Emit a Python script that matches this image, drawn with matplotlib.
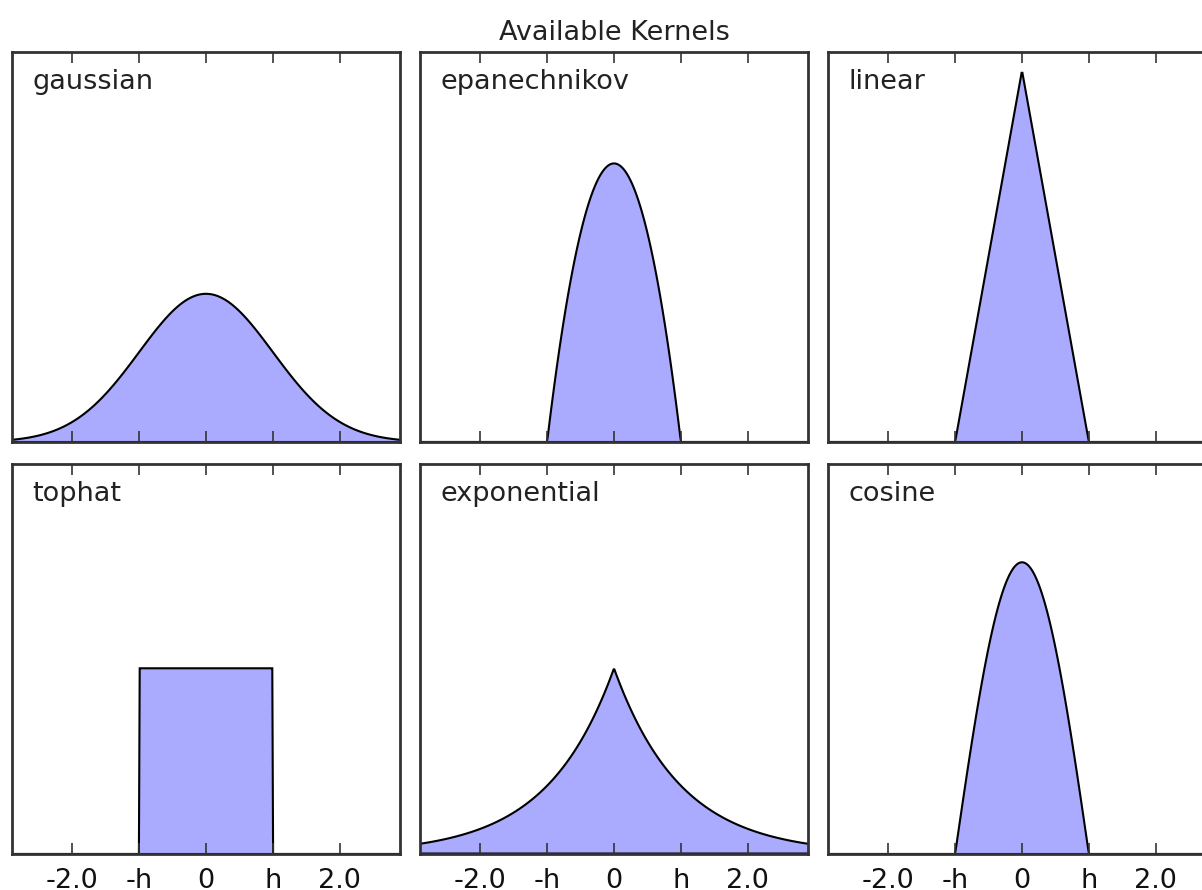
import numpy as np
import matplotlib
matplotlib.use('Agg')
import matplotlib.pyplot as plt

# kernel names as laid out in the grid (row by row) and bandwidth
kernels = ['gaussian', 'epanechnikov', 'linear', 'tophat', 'exponential', 'cosine']
h = 1.0
tick_pos = [-2, -1, 0, 1, 2]
tick_labels = ['-2.0', '-h', '0', 'h', '2.0']


def kernel_density(kernel, x):
    u = np.abs(x) / h
    if kernel == 'gaussian':
        return np.exp(-0.5 * u ** 2) / np.sqrt(2 * np.pi) / h
    if kernel == 'tophat':
        return np.where(u < 1, 0.5, 0.0) / h
    if kernel == 'epanechnikov':
        return np.where(u < 1, 0.75 * (1 - u ** 2), 0.0) / h
    if kernel == 'exponential':
        return 0.5 * np.exp(-u) / h
    if kernel == 'linear':
        return np.where(u < 1, 1 - u, 0.0) / h
    if kernel == 'cosine':
        return np.where(u < 1, np.pi / 4 * np.cos(np.pi * u / 2), 0.0) / h


X_plot = np.linspace(-6, 6, 1000)

fig = plt.figure(figsize=(12.02, 8.9), dpi=100)
W, H = 1202.0, 890.0
col_left = [12, 420, 828]
row_top = [52, 464]
ax_w, ax_h = 388, 390

axes = []
for i, kernel in enumerate(kernels):
    r, c = divmod(i, 3)
    ax = fig.add_axes([col_left[c] / W, 1 - (row_top[r] + ax_h) / H, ax_w / W, ax_h / H])
    axes.append(ax)
    ax.fill(X_plot, kernel_density(kernel, X_plot), fc='#AAAAFF', ec='k', lw=1.5)
    ax.text(-2.6, 0.95, kernel, fontsize=19.5, color='#222222')
    ax.set_xlim(-2.9, 2.9)
    ax.set_ylim(0, 1.05)
    ax.set_yticks([])
    ax.set_xticks(tick_pos)
    if r == 1:
        ax.set_xticklabels(tick_labels, fontsize=19.5)
    else:
        ax.set_xticklabels([])
    ax.tick_params(axis='x', direction='in', top=True, bottom=True, length=8, width=1.2,
                   pad=10, colors='#333333', labelcolor='#111111')
    for s in ax.spines.values():
        s.set_linewidth(2)
        s.set_color('#333333')

axes[1].set_title('Available Kernels', fontsize=19.5, color='#222222', pad=9)

fig.savefig('out.png', dpi=100)
